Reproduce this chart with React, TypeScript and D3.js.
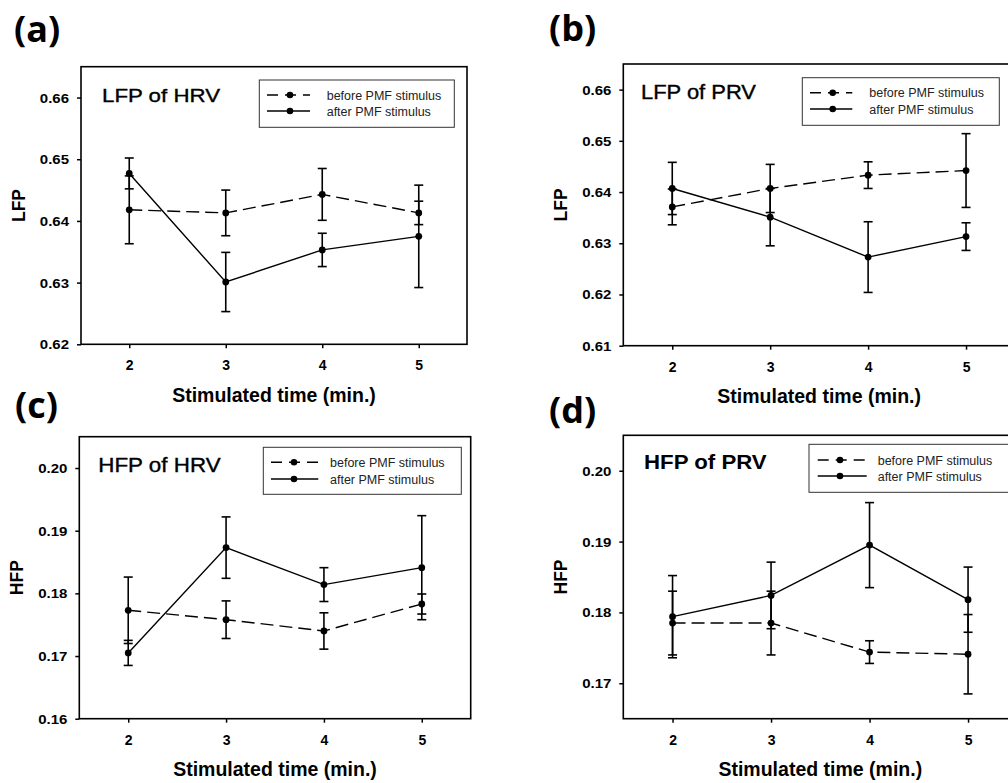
import React, { useEffect, useRef } from 'react'
import * as d3 from 'd3'

// stimulated time (min.)
const minutes = [2, 3, 4, 5]

// (a) LFP of HRV
const lfpHrvBefore = [0.6418, 0.6413, 0.6443, 0.6413]
const lfpHrvBeforeErr = [0.0055, 0.0037, 0.0042, 0.0019]
const lfpHrvAfter = [0.6477, 0.6301, 0.6353, 0.6375]
const lfpHrvAfterErr = [0.0025, 0.0048, 0.0027, 0.0083]

// (b) LFP of PRV
const lfpPrvBefore = [0.6371, 0.6407, 0.6433, 0.6442]
const lfpPrvBeforeErr = [0.0035, 0.0047, 0.0026, 0.0072]
const lfpPrvAfter = [0.6407, 0.6351, 0.6273, 0.6313]
const lfpPrvAfterErr = [0.0051, 0.0056, 0.0069, 0.0027]

// (c) HFP of HRV
const hfpHrvBefore = [0.1773, 0.1758, 0.1740, 0.1783]
const hfpHrvBeforeErr = [0.0053, 0.0030, 0.0029, 0.0016]
const hfpHrvAfter = [0.1705, 0.1873, 0.1814, 0.1841]
const hfpHrvAfterErr = [0.0020, 0.0049, 0.0027, 0.0083]

// (d) HFP of PRV
const hfpPrvBefore = [0.1785, 0.1785, 0.1744, 0.1741]
const hfpPrvBeforeErr = [0.0045, 0.0045, 0.0016, 0.0056]
const hfpPrvAfter = [0.1794, 0.1824, 0.1895, 0.1818]
const hfpPrvAfterErr = [0.0058, 0.0047, 0.0060, 0.0046]

const lfpTicksA = [0.62, 0.63, 0.64, 0.65, 0.66]
const lfpTicksB = [0.61, 0.62, 0.63, 0.64, 0.65, 0.66]
const hfpTicksC = [0.16, 0.17, 0.18, 0.19, 0.20]
const hfpTicksD = [0.17, 0.18, 0.19, 0.20]

const legendLabels = ['before PMF stimulus', 'after PMF stimulus']
const xTitle = 'Stimulated time (min.)'

const FONT = '"Liberation Sans", Arial, sans-serif'

const panels = [
  {
    label: '(a)', labelX: 14, labelY: 42,
    title: 'LFP of HRV', titleX: 102, titleY: 101.5, titleSize: 18.5, titleWidth: 118, titleBold: false,
    left: 81, top: 66.7, right: 467, bottom: 344.3,
    yDomain: [0.62, 0.665], yTicks: lfpTicksA, yLabel: 'LFP', yLabelX: 25,
    legend: { x0: 259.3, x1: 454.3, y0: 80, y1: 127.3, rows: [95, 111], lx0: 267, lx1: 310, mx: 290, tx: 326.7 },
    before: lfpHrvBefore, beforeErr: lfpHrvBeforeErr, after: lfpHrvAfter, afterErr: lfpHrvAfterErr
  },
  {
    label: '(b)', labelX: 549, labelY: 41,
    title: 'LFP of PRV', titleX: 641, titleY: 99.3, titleSize: 19.5, titleWidth: 115, titleBold: false,
    left: 623.3, top: 64, right: 1015, bottom: 345.7,
    yDomain: [0.61, 0.665], yTicks: lfpTicksB, yLabel: 'LFP', yLabelX: 567,
    legend: { x0: 802.3, x1: 999.3, y0: 77.7, y1: 125.3, rows: [92.7, 109], lx0: 810, lx1: 852.3, mx: 832.7, tx: 869.3 },
    before: lfpPrvBefore, beforeErr: lfpPrvBeforeErr, after: lfpPrvAfter, afterErr: lfpPrvAfterErr
  },
  {
    label: '(c)', labelX: 15, labelY: 418,
    title: 'HFP of HRV', titleX: 98.3, titleY: 471.7, titleSize: 19.5, titleWidth: 122.3, titleBold: false,
    left: 79.3, top: 436.7, right: 470.7, bottom: 718.7,
    yDomain: [0.16, 0.205], yTicks: hfpTicksC, yLabel: 'HFP', yLabelX: 23,
    legend: { x0: 263.3, x1: 461.3, y0: 447.3, y1: 494.3, rows: [462.3, 479], lx0: 271, lx1: 318.3, mx: 294, tx: 330 },
    before: hfpHrvBefore, beforeErr: hfpHrvBeforeErr, after: hfpHrvAfter, afterErr: hfpHrvAfterErr
  },
  {
    label: '(d)', labelX: 549, labelY: 423,
    title: 'HFP of PRV', titleX: 644, titleY: 469.3, titleSize: 21, titleWidth: 122.7, titleBold: true,
    left: 623.3, top: 435.3, right: 1017.3, bottom: 718.7,
    yDomain: [0.165, 0.205], yTicks: hfpTicksD, yLabel: 'HFP', yLabelX: 567,
    legend: { x0: 809, x1: 1020, y0: 444.3, y1: 492.3, rows: [460, 476], lx0: 817.7, lx1: 866.7, mx: 840, tx: 877.7 },
    before: hfpPrvBefore, beforeErr: hfpPrvBeforeErr, after: hfpPrvAfter, afterErr: hfpPrvAfterErr
  }
]

const drawPanel = (svg: any, p: any) => {
  const x = d3.scaleLinear().domain([1.5, 5.5]).range([p.left, p.right])
  const y = d3.scaleLinear().domain(p.yDomain).range([p.bottom, p.top])
  const g = svg.append('g')

  // panel letter
  g.append('text')
    .attr('x', p.labelX).attr('y', p.labelY)
    .attr('font-family', '"Open Sans", sans-serif')
    .attr('font-weight', 700).attr('font-size', 36)
    .text(p.label)

  // y axis
  const yAxis = g.append('g')
    .attr('transform', `translate(${p.left},0)`)
    .call(d3.axisLeft(y).tickValues(p.yTicks).tickSize(4).tickFormat(d3.format('.2f')))
  yAxis.select('.domain').remove()
  yAxis.selectAll('line').attr('stroke-width', 1.5)
  yAxis.selectAll('text')
    .attr('x', -12 / 1.2).attr('dy', '0.36em')
    .attr('transform', 'scale(1.2,1)')
    .attr('font-family', FONT).attr('font-size', 12.5).attr('font-weight', 'bold')
    .attr('fill', '#000')

  // x axis
  const xAxis = g.append('g')
    .attr('transform', `translate(0,${p.bottom})`)
    .call(d3.axisBottom(x).tickValues(minutes).tickSize(4).tickFormat(d3.format('d')))
  xAxis.select('.domain').remove()
  xAxis.selectAll('line').attr('stroke-width', 1.5)
  xAxis.selectAll('text')
    .attr('y', 26).attr('dy', 0)
    .attr('font-family', FONT).attr('font-size', 14).attr('font-weight', 'bold')
    .attr('fill', '#000')

  // frame
  g.append('rect')
    .attr('x', p.left).attr('y', p.top)
    .attr('width', p.right - p.left).attr('height', p.bottom - p.top)
    .attr('fill', 'none').attr('stroke', '#000').attr('stroke-width', 1.6)

  // axis titles
  g.append('text')
    .attr('x', (p.left + p.right) / 2).attr('y', p.bottom + 57.5)
    .attr('text-anchor', 'middle')
    .attr('font-family', FONT).attr('font-size', 19.5).attr('font-weight', 'bold')
    .text(xTitle)
  g.append('text')
    .attr('transform', `translate(${p.yLabelX},${(p.top + p.bottom) / 2}) rotate(-90)`)
    .attr('text-anchor', 'middle')
    .attr('font-family', FONT).attr('font-size', 17.5).attr('font-weight', 'bold')
    .text(p.yLabel)

  // panel title
  g.append('text')
    .attr('x', p.titleX).attr('y', p.titleY)
    .attr('font-family', FONT).attr('font-size', p.titleSize)
    .attr('font-weight', p.titleBold ? 'bold' : 'normal')
    .attr('stroke', p.titleBold ? 'none' : '#000').attr('stroke-width', 0.35)
    .attr('textLength', p.titleWidth).attr('lengthAdjust', 'spacingAndGlyphs')
    .text(p.title)

  // legend
  const lg = p.legend
  g.append('rect')
    .attr('x', lg.x0).attr('y', lg.y0)
    .attr('width', lg.x1 - lg.x0).attr('height', lg.y1 - lg.y0)
    .attr('fill', '#fff').attr('stroke', '#333').attr('stroke-width', 1)
  lg.rows.forEach((ry: number, i: number) => {
    g.append('line')
      .attr('x1', lg.lx0).attr('x2', lg.lx1).attr('y1', ry).attr('y2', ry)
      .attr('stroke', '#000').attr('stroke-width', 1.4)
      .attr('stroke-dasharray', i === 0 ? '11,7' : null)
    g.append('circle').attr('cx', lg.mx).attr('cy', ry).attr('r', 3.3).attr('fill', '#000')
    g.append('text')
      .attr('x', lg.tx).attr('y', ry + 4.5)
      .attr('font-family', FONT).attr('font-size', 12.5).attr('fill', '#222')
      .text(legendLabels[i])
  })

  // series
  const series = [
    { values: p.before, errs: p.beforeErr, dash: '13,6' },
    { values: p.after, errs: p.afterErr, dash: null }
  ]
  const line = d3.line<number>()
    .x((d, i) => x(minutes[i]))
    .y(d => y(d))

  series.forEach(s => {
    s.values.forEach((v: number, i: number) => {
      const cx = x(minutes[i])
      const e = s.errs[i]
      g.append('line')
        .attr('x1', cx).attr('x2', cx).attr('y1', y(v - e)).attr('y2', y(v + e))
        .attr('stroke', '#000').attr('stroke-width', 1.6)
      ;[v - e, v + e].forEach(c => {
        g.append('line')
          .attr('x1', cx - 4.5).attr('x2', cx + 4.5).attr('y1', y(c)).attr('y2', y(c))
          .attr('stroke', '#000').attr('stroke-width', 1.6)
      })
    })
  })

  series.forEach(s => {
    g.append('path')
      .datum(s.values)
      .attr('fill', 'none')
      .attr('stroke', '#000')
      .attr('stroke-width', 1.4)
      .attr('stroke-dasharray', s.dash)
      .attr('d', line)
    g.selectAll(null)
      .data(s.values)
      .enter()
      .append('circle')
      .attr('cx', (d: number, i: number) => x(minutes[i]))
      .attr('cy', (d: number) => y(d))
      .attr('r', 3.4)
      .attr('fill', '#000')
  })
}

const App = () => {
  const ref = useRef<SVGSVGElement>(null)

  useEffect(() => {
    const svg = d3.select(ref.current)
    svg.selectAll('*').remove()
    panels.forEach(p => drawPanel(svg, p))
  }, [])

  return (
    <svg
      ref={ref}
      width={1008}
      height={783}
      style={{ position: 'absolute', left: 0, top: 0, background: '#fff' }}
    />
  )
}

export default App
